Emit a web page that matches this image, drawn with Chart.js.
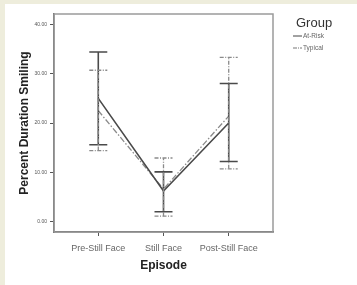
<!DOCTYPE html>
<html>
<head>
<meta charset="utf-8">
<script src="https://cdn.jsdelivr.net/npm/chart.js@4"></script>
<style>
  html, body { margin: 0; padding: 0; }
  body { width: 357px; height: 285px; background: #eeeddc; position: relative; overflow: hidden; font-family: "Liberation Sans", Arial, sans-serif; }
  #panel { position: absolute; left: 5px; top: 4px; width: 352px; height: 281px; background: #fff; }
  #chart { position: absolute; left: 0; top: 0; }
  #legend { position: absolute; left: 288px; top: 11px; color: #333; }
  #legend .title { font-size: 13px; margin-left: 3px; }
  #legend .item { font-size: 6.5px; color: #666; height: 12px; line-height: 12px; display: flex; align-items: center; margin-top: 0; }
  #legend svg { margin-right: 1px; }
</style>
</head>
<body>
<div id="panel">
  <canvas id="chart" width="352" height="281"></canvas>
  <div id="legend">
    <div class="title">Group</div>
    <div class="item"><svg width="9" height="4"><line x1="0" y1="2" x2="9" y2="2" stroke="#444" stroke-width="1"/></svg>At-Risk</div>
    <div class="item"><svg width="9" height="4"><line x1="0" y1="2" x2="9" y2="2" stroke="#777" stroke-width="1" stroke-dasharray="4,1,1,1"/></svg>Typical</div>
  </div>
</div>
<script>
"use strict";

// ── 데이터 ─────────────────────────────────────────────
const EPISODES = ["Pre-Still Face", "Still Face", "Post-Still Face"];
const Y_TICKS = [0, 10, 20, 30, 40];

const AT_RISK_MEAN = [25.0, 6.2, 20.0];
const AT_RISK_LOW = [15.6, 2.0, 12.2];
const AT_RISK_HIGH = [34.4, 10.1, 28.0];

const TYPICAL_MEAN = [22.5, 6.6, 21.4];
const TYPICAL_LOW = [14.4, 1.1, 10.7];
const TYPICAL_HIGH = [30.7, 12.9, 33.3];

const toPoints = (arr) => arr.map((y, i) => ({ x: i, y }));

// 오차 막대 (scale 픽셀 변환으로 그림)
const errorBars = {
  id: "errorBars",
  afterDatasetsDraw(chart) {
    const { ctx, scales: { x, y } } = chart;
    chart.data.datasets.forEach((ds) => {
      const eb = ds.errorBar;
      ctx.save();
      ctx.strokeStyle = eb.color;
      ctx.lineWidth = eb.width;
      ctx.setLineDash(eb.dash);
      eb.low.forEach((lo, i) => {
        const px = x.getPixelForValue(i);
        const y1 = y.getPixelForValue(lo);
        const y2 = y.getPixelForValue(eb.high[i]);
        ctx.beginPath();
        ctx.moveTo(px, y1);
        ctx.lineTo(px, y2);
        ctx.stroke();
        ctx.beginPath();
        ctx.moveTo(px - 9, y1); ctx.lineTo(px + 9, y1);
        ctx.moveTo(px - 9, y2); ctx.lineTo(px + 9, y2);
        ctx.stroke();
      });
      ctx.restore();
    });
  },
};

// 플롯 테두리
const frame = {
  id: "frame",
  beforeDatasetsDraw(chart) {
    const { ctx, chartArea: a } = chart;
    ctx.save();
    ctx.strokeStyle = "#9a9a9a";
    ctx.lineWidth = 1.5;
    ctx.strokeRect(a.left, a.top, a.right - a.left, a.bottom - a.top);
    ctx.restore();
  },
};

new Chart(document.getElementById("chart"), {
  type: "line",
  data: {
    datasets: [
      {
        label: "At-Risk",
        data: toPoints(AT_RISK_MEAN),
        borderColor: "#4a4a4a",
        borderWidth: 1.6,
        pointRadius: 0,
        errorBar: { low: AT_RISK_LOW, high: AT_RISK_HIGH, color: "#4a4a4a", width: 1.6, dash: [] },
      },
      {
        label: "Typical",
        data: toPoints(TYPICAL_MEAN),
        borderColor: "#8a8a8a",
        borderWidth: 1.3,
        borderDash: [6, 2, 1.5, 2],
        pointRadius: 0,
        errorBar: { low: TYPICAL_LOW, high: TYPICAL_HIGH, color: "#8a8a8a", width: 1.3, dash: [4, 1.5, 1, 1.5] },
      },
    ],
  },
  options: {
    responsive: false,
    animation: false,
    events: [],
    layout: { padding: { left: 0, top: 10, right: 84, bottom: 0 } },
    plugins: { legend: { display: false }, tooltip: { enabled: false } },
    scales: {
      x: {
        type: "linear",
        min: -0.679,
        max: 2.679,
        afterBuildTicks: (s) => { s.ticks = EPISODES.map((_, i) => ({ value: i })); },
        afterFit: (s) => { s.height = 53; },
        ticks: {
          callback: (v) => EPISODES[v],
          color: "#666",
          font: { family: "Liberation Sans", size: 9 },
          padding: 7,
          maxRotation: 0,
        },
        grid: { drawOnChartArea: false, tickLength: 4, color: "#555" },
        border: { color: "#555", width: 1.5 },
        title: {
          display: true,
          text: "Episode",
          color: "#222",
          font: { family: "Liberation Sans", size: 12, weight: "bold" },
          padding: { top: 0, bottom: 12 },
        },
      },
      y: {
        min: -2.1,
        max: 42.1,
        afterBuildTicks: (s) => { s.ticks = Y_TICKS.map((v) => ({ value: v })); },
        afterFit: (s) => { s.width = 49; },
        ticks: {
          callback: (v) => v.toFixed(2),
          color: "#555",
          font: { family: "Liberation Sans", size: 5 },
          padding: 3,
        },
        grid: { drawOnChartArea: false, tickLength: 4, color: "#555" },
        border: { color: "#555", width: 1.5 },
        title: {
          display: true,
          text: "Percent Duration Smiling",
          color: "#222",
          font: { family: "Liberation Sans", size: 12, weight: "bold" },
          padding: { top: 12, bottom: 0 },
        },
      },
    },
  },
  plugins: [frame, errorBars],
});
</script>
</body>
</html>
